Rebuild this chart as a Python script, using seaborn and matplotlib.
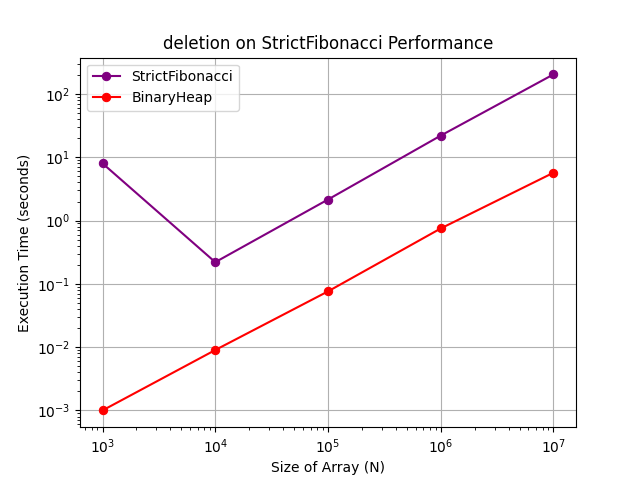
import matplotlib
matplotlib.use("Agg")
import matplotlib.pyplot as plt
import pandas as pd
import seaborn as sns

sizes = [1e3, 1e4, 1e5, 1e6, 1e7]
strict_fib = [8.0, 0.22, 2.15, 22.0, 204.0]
binary_heap = [0.001, 0.009, 0.076, 0.75, 5.7]

df = pd.DataFrame({"N": sizes, "StrictFibonacci": strict_fib, "BinaryHeap": binary_heap})

fig, ax = plt.subplots(figsize=(6.4, 4.8), dpi=100)
sns.lineplot(data=df, x="N", y="StrictFibonacci", marker="o", color="purple",
             markeredgecolor="purple", label="StrictFibonacci", ax=ax)
sns.lineplot(data=df, x="N", y="BinaryHeap", marker="o", color="red",
             markeredgecolor="red", label="BinaryHeap", ax=ax)

ax.set_xscale("log")
ax.set_yscale("log")
ax.set_xlabel("Size of Array (N)")
ax.set_ylabel("Execution Time (seconds)")
ax.set_title("deletion on StrictFibonacci Performance")
ax.grid(True)
ax.legend(loc="upper left")

fig.savefig("out.png", dpi=100)
